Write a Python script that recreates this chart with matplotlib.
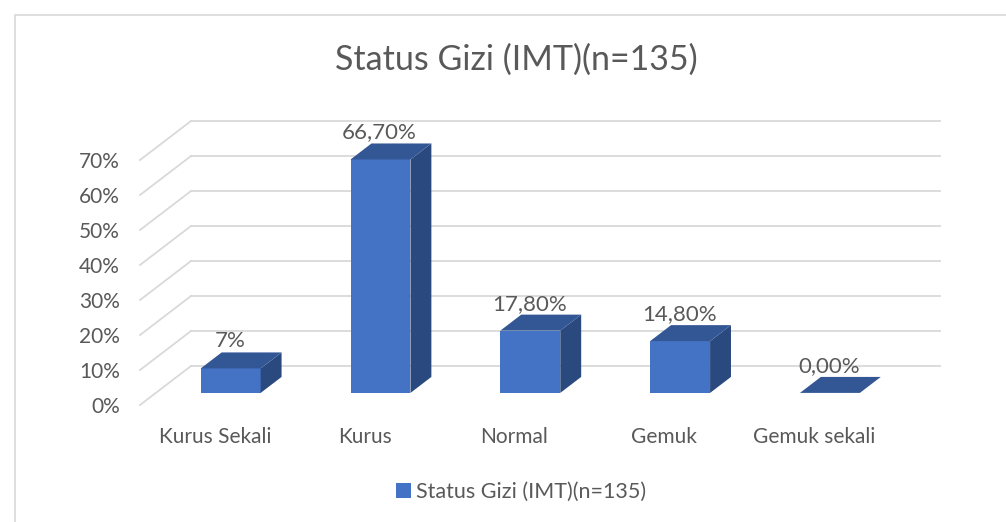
import matplotlib.pyplot as plt
from matplotlib.patches import Polygon, Patch, Rectangle
from matplotlib.transforms import Affine2D, IdentityTransform

categories = ["Kurus Sekali", "Kurus", "Normal", "Gemuk", "Gemuk sekali"]
values = [7.0, 66.7, 17.8, 14.8, 0.0]
value_labels = ["7%", "66,70%", "17,80%", "14,80%", "0,00%"]
y_ticks = [0, 10, 20, 30, 40, 50, 60, 70]
series_name = "Status Gizi (IMT)(n=135)"

FRONT = "#4472C4"
TOP = "#335795"
SIDE = "#2A4A7F"
GRID = "#D9D9D9"
TEXT = "#595959"

# oblique depth of the floor in pixels, bars sit between t0 and t1 of it
DEPTH = (51, 39)
T0, T1 = 0.31, 0.72
BAR_W = 0.4

plt.rcParams["font.family"] = ["Lato", "DejaVu Sans"]

W, H = 1006, 522
fig = plt.figure(figsize=(W / 100, H / 100), dpi=100)
ax = fig.add_axes([140 / W, 117 / H, (889 - 140) / W, (405 - 160) / H])
ax.set_xlim(-0.5, len(categories) - 0.5)
ax.set_ylim(0, 70)
for s in ax.spines.values():
    s.set_visible(False)
ax.patch.set_visible(False)


def shifted(t):
    """Data transform pushed back into the depth of the floor."""
    return ax.transData + Affine2D().translate(DEPTH[0] * t, DEPTH[1] * t)


def to_px(x, y, t):
    px, py = ax.transData.transform((x, y))
    return (px + DEPTH[0] * t, py + DEPTH[1] * t)


x0, x1 = -0.5, len(categories) - 0.5
for v in y_ticks:
    # side wall diagonal then back wall line
    pts = [to_px(x0, v, 0), to_px(x0, v, 1)]
    ax.plot([p[0] for p in pts], [p[1] for p in pts], color=GRID, lw=1.3,
            transform=IdentityTransform(), clip_on=False, zorder=1)
    ax.plot([x0, x1], [v, v], color=GRID, lw=1.3, transform=shifted(1),
            clip_on=False, zorder=1)

xs = list(range(len(categories)))
ax.bar(xs, values, width=BAR_W, color=FRONT, transform=shifted(T0),
       clip_on=False, zorder=3)
ax.set_xlim(x0, x1)
ax.set_ylim(0, 70)

for i, v in enumerate(values):
    r = i + BAR_W / 2
    l = i - BAR_W / 2
    side = [to_px(r, 0, T0), to_px(r, 0, T1), to_px(r, v, T1), to_px(r, v, T0)]
    top = [to_px(l, v, T0), to_px(r, v, T0), to_px(r, v, T1), to_px(l, v, T1)]
    if v > 0:
        ax.add_patch(Polygon(side, closed=True, facecolor=SIDE, edgecolor="none",
                             transform=IdentityTransform(), clip_on=False, zorder=3))
    ax.add_patch(Polygon(top, closed=True, facecolor=TOP, edgecolor="none",
                         transform=IdentityTransform(), clip_on=False, zorder=3))
    ax.text(i, v, value_labels[i], ha="center", va="bottom", fontsize=16, color=TEXT,
            transform=ax.transData + Affine2D().translate(DEPTH[0] * T0 - 1, DEPTH[1] * T1 + 1),
            zorder=4)

ax.set_xticks(xs, categories)
ax.set_yticks(y_ticks, [f"{t}%" for t in y_ticks])
ax.tick_params(axis="x", length=0, pad=16, labelsize=15, labelcolor=TEXT)
ax.tick_params(axis="y", length=0, pad=14.5, labelsize=15, labelcolor=TEXT)

fig.text(516 / W, 1 - 60 / H, series_name, ha="center", va="center", fontsize=24.5, color=TEXT)

fig.legend(handles=[Patch(facecolor=FRONT, label=series_name)], loc="center",
           bbox_to_anchor=(521 / W, 1 - 492 / H), frameon=False, fontsize=15.5,
           handlelength=0.7, handleheight=0.7, handletextpad=0.25, labelcolor=TEXT)

fig.add_artist(Rectangle((15 / W, -0.1), 1.2, (H - 15) / H + 0.1, fill=False,
                         edgecolor=GRID, lw=1.2, transform=fig.transFigure))

fig.savefig("out.png", dpi=100)
